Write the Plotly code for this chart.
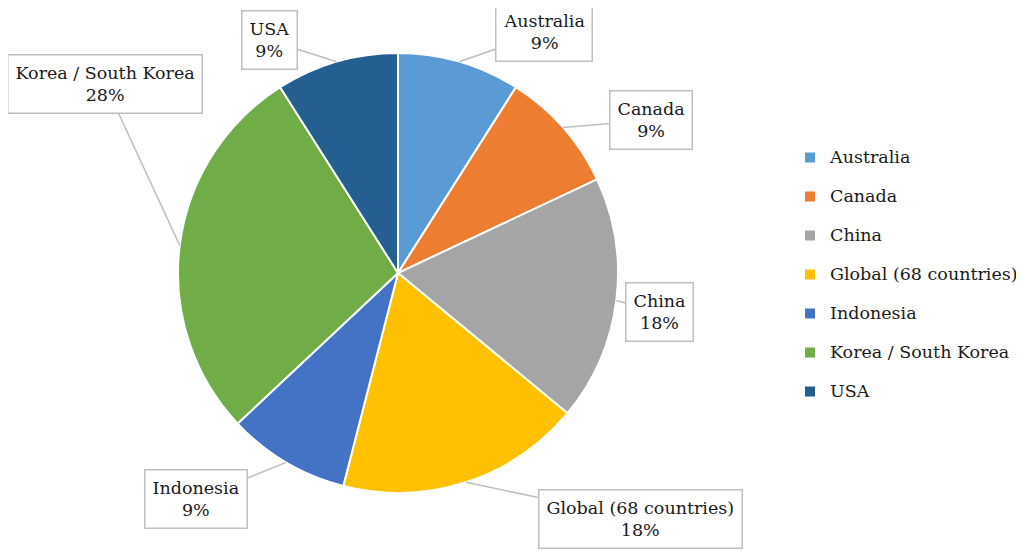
import numpy as np
import plotly.graph_objects as go

countries = ["Australia", "Canada", "China", "Global (68 countries)",
             "Indonesia", "Korea / South Korea", "USA"]
shares = [9, 9, 18, 18, 9, 28, 9]
colors = ["#5B9BD5", "#ED7D31", "#A5A5A5", "#FFC000",
          "#4472C4", "#70AD47", "#255E91"]

W, H = 1024, 551
OFF = 8  # page body margin
CX, CY, R = 398 - OFF, 273 - OFF, 220  # pie centre / radius in pixels
FONT = "DejaVu Serif"
FS = 17.5

# callout box centres in pixels (screen coords)
label_pos = {
    "Australia": (544, 32),
    "Canada": (651, 120),
    "China": (659, 312),
    "Global (68 countries)": (640, 519),
    "Indonesia": (196, 499),
    "Korea / South Korea": (105, 84),
    "USA": (269, 40),
}

fig = go.Figure()
fig.add_trace(go.Pie(
    labels=[f'<span style="font-size:{FS}px;baseline-shift:5px">{c}</span>' for c in countries],
    values=shares,
    sort=False,
    direction="clockwise",
    rotation=0,
    marker=dict(colors=colors, line=dict(color="white", width=2)),
    textinfo="none",
    hoverinfo="skip",
    domain=dict(x=[(CX - R) / W, (CX + R) / W],
                y=[(H - CY - R) / H, (H - CY + R) / H]),
))
# hidden pixel-space axes, used to anchor the callouts
fig.add_trace(go.Scatter(x=[0, W], y=[0, H], mode="markers",
                         marker=dict(opacity=0), showlegend=False, hoverinfo="skip"))

total = sum(shares)
cum = np.cumsum([0] + shares[:-1])
annotations = []
for name, v, c0 in zip(countries, shares, cum):
    theta = 2 * np.pi * (c0 + v / 2) / total
    tx = CX + R * np.sin(theta)
    ty = CY - R * np.cos(theta)
    lx, ly = label_pos[name]
    annotations.append(dict(
        x=tx, y=ty, xref="x", yref="y",
        ax=lx - OFF, ay=ly - OFF, axref="x", ayref="y",
        text=f"{name}<br>{round(100 * v / total)}%",
        showarrow=True, arrowhead=0, arrowwidth=1.5, arrowcolor="#BFBFBF",
        standoff=0,
        font=dict(family=FONT, size=FS, color="#1a1a1a"),
        bgcolor="white", bordercolor="#BFBFBF", borderwidth=1.5, borderpad=7,
        align="center",
    ))

fig.update_layout(
    width=W, height=H,
    margin=dict(l=0, r=0, t=0, b=0),
    paper_bgcolor="white", plot_bgcolor="white",
    xaxis=dict(range=[0, W], visible=False, domain=[0, 1], fixedrange=True),
    yaxis=dict(range=[H, 0], visible=False, domain=[0, 1], fixedrange=True),
    annotations=annotations,
    showlegend=True,
    legend=dict(x=(790 - OFF) / W, y=(H - (275 - OFF)) / H,
                xanchor="left", yanchor="middle",
                font=dict(family=FONT, size=27.7, color="#1a1a1a"),
                bgcolor="rgba(0,0,0,0)"),
)

fig.write_html("out.html")
